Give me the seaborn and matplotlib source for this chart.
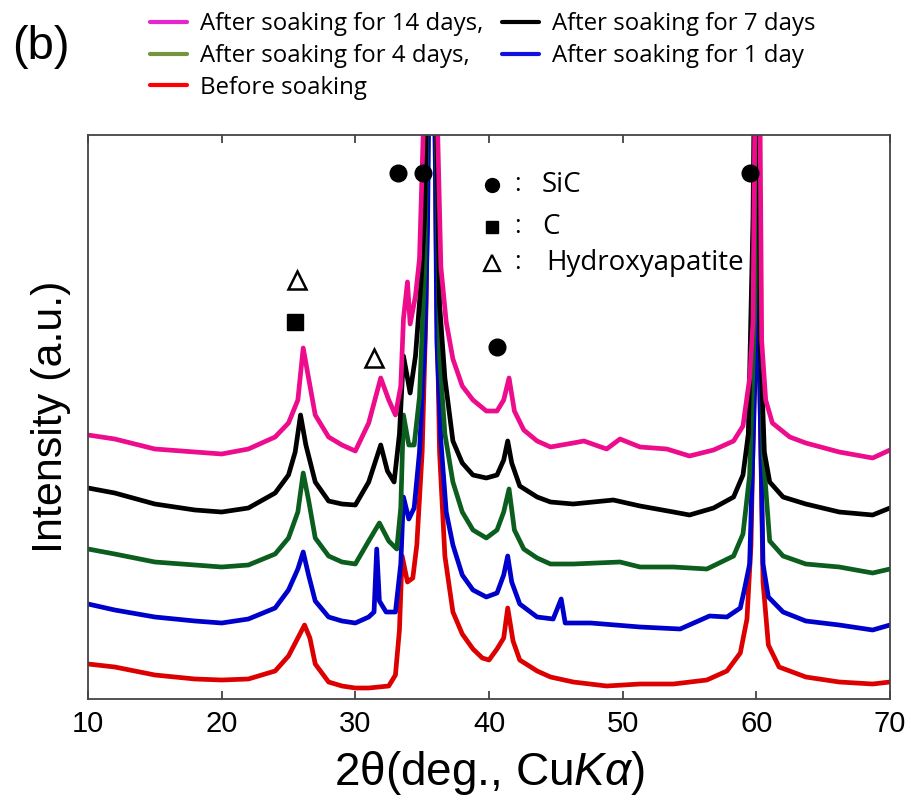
import matplotlib
matplotlib.use("Agg")
import matplotlib.pyplot as plt
import seaborn as sns
import pandas as pd
from matplotlib.lines import Line2D

sns.set_theme(style="white")
plt.rcParams['font.family'] = ['Liberation Sans', 'DejaVu Sans']
plt.rcParams['mathtext.fontset'] = 'custom'
plt.rcParams['mathtext.it'] = 'Liberation Sans:italic'
plt.rcParams['mathtext.rm'] = 'Liberation Sans'
plt.rcParams['text.color'] = 'black'
plt.rcParams['axes.labelcolor'] = 'black'
plt.rcParams['xtick.color'] = 'black'

# ---- data (intensity in arbitrary units) ----
x_14d = [10,12,15,18,20,22,24,25,25.7,26.1,26.5,27,28,29,30,31,31.9,32.5,33,33.4,33.6,33.9,34.1,34.5,34.8,35.2,35.7,36.1,36.4,36.8,37.3,38,38.8,39.8,40.6,41.1,41.5,41.9,42.6,43.6,44.6,46.3,47.1,48.8,49.8,51.3,53.3,55,56.8,58.3,59,59.5,59.75,60.1,60.4,60.7,61.2,62.5,63.7,66.2,68.7,70]
y_14d = [264,260,250,247,245,250,262,276,299,351,321,284,262,254,248,276,321,299,284,313,380,417,375,403,440,620,900,600,432,377,340,313,299,288,288,299,321,288,269,258,252,256,258,250,260,252,250,243,249,258,273,321,377,900,358,299,276,262,256,247,241,249]

x_7d = [10,12,15,18,20,22,24,25,25.5,25.9,26.3,27,28,29,30,31,31.9,32.4,32.9,33.3,33.6,33.9,34.1,34.5,34.9,35.2,35.7,36.3,36.7,37.3,38,38.8,39.8,40.6,41.1,41.4,41.7,42.3,43.6,44.6,46.3,49.3,51.3,53.8,55,56.8,58.3,59,59.4,59.75,60.05,60.3,60.6,61,62,63.7,66.2,68.7,70]
y_7d = [211,206,195,189,187,191,206,224,247,284,254,217,198,195,194,217,254,228,217,265,343,321,306,343,414,488,900,395,321,258,236,224,221,224,239,258,236,213,202,197,195,199,193,187,184,191,202,224,265,480,900,358,247,217,202,195,187,184,191]

x_4d = [10,12,15,18,20,22,24,25,25.7,26.1,26.5,27,28,29,30,31,31.8,32.5,33.1,33.4,33.6,34.0,34.4,34.8,35.2,35.7,36.3,36.7,37.3,38,38.8,39.8,40.6,41.1,41.5,41.9,42.6,43.6,44.6,46.3,49.8,51.3,53.8,56.3,58.3,59,59.5,59.9,60.1,60.25,60.5,61,62,63.7,66.2,68.7,70]
y_4d = [150,145,137,134,132,134,145,161,187,226,199,161,143,137,135,158,176,158,150,191,284,254,254,302,432,900,343,265,217,187,169,161,169,187,210,169,150,141,135,135,137,132,132,130,143,165,224,395,900,432,247,158,143,135,132,126,130]

x_1d = [10,12,15,18,20,22,24,25,25.7,26.1,26.5,27,28,29,30,31,31.4,31.6,31.8,32.3,33,33.4,33.6,34.0,34.4,34.8,35.2,35.4,35.75,36.1,36.4,36.8,37.3,38,38.8,39.8,40.6,41.1,41.4,41.7,42.3,43.6,44.8,45.4,45.7,47.6,51.3,54.3,56.5,57.8,58.8,59.1,59.5,59.9,60.05,60.25,60.5,60.9,62,63.7,66.2,68.7,70]
y_1d = [95,89,82,78,76,80,91,109,130,147,124,98,82,78,76,82,87,150,98,87,87,135,202,180,191,247,358,470,900,358,258,187,154,124,109,102,106,124,143,117,95,82,80,100,76,76,72,70,83,82,91,109,135,321,447,321,135,102,87,78,74,69,74]

x_0d = [10,12,15,18,20,22,24,25,25.7,26.2,26.6,27,28,29,30,31,32.5,33,33.3,33.5,33.9,34.3,34.6,35.0,35.3,35.7,36.1,36.3,36.7,37.3,38,38.8,39.5,40,40.6,41.1,41.4,41.8,42.3,43.6,44.6,46.3,48.8,51.3,53.8,56.3,57.8,58.8,59.3,59.6,59.9,60.05,60.25,60.5,60.9,61.7,63.7,66.2,68.7,70]
y_0d = [35,32,24,20,19,20,28,43,61,74,61,35,17,13,11,11,13,24,69,143,117,121,154,247,395,900,395,247,143,87,65,50,41,39,50,61,91,58,39,28,22,17,13,15,15,19,28,46,80,154,358,403,321,117,54,32,22,17,15,17]

series_names = ["After soaking for 14 days,", "After soaking for 7 days",
                "After soaking for 4 days,", "After soaking for 1 day", "Before soaking"]
line_colors = ["#ec0c8c", "#000000", "#0b5e1e", "#0000cc", "#dd0000"]
legend_colors = ["#e624d0", "#000000", "#77933c", "#1010e0", "#ff0000"]

xticks = [10, 20, 30, 40, 50, 60, 70]

# phase markers (x in degrees, y in a.u.)
sic_x = [33.2, 35.05, 40.6, 59.5]
sic_y = [526, 526, 352, 526]
c_x = [25.5]
c_y = [377]
hap_x = [25.6, 31.4]
hap_y = [419, 341]

# marker key
key_labels = ["SiC", "C", "Hydroxyapatite"]
key_y = [514, 472, 436]

frames = []
for name, xs, ys in zip(series_names,
                        [x_14d, x_7d, x_4d, x_1d, x_0d],
                        [y_14d, y_7d, y_4d, y_1d, y_0d]):
    frames.append(pd.DataFrame({"theta": xs, "intensity": ys, "sample": name}))
df = pd.concat(frames, ignore_index=True)

fig = plt.figure(figsize=(9.12, 8.02), dpi=100)
ax = fig.add_axes([88/912, 1 - 699/802, (890-88)/912, (699-135)/802])

sns.lineplot(data=df, x="theta", y="intensity", hue="sample",
             hue_order=series_names[::-1], palette=dict(zip(series_names, line_colors)),
             sort=False, estimator=None, linewidth=3.4, legend=False, ax=ax)

ax.set_xlim(10, 70)
ax.set_ylim(0, 564)
ax.set_xticks(xticks)
ax.set_xticklabels([str(t) for t in xticks], fontsize=21)
ax.set_yticks([])
ax.tick_params(axis='x', direction='in', top=True, bottom=True, length=6, width=1.2, color='#333333', pad=8)
for s in ax.spines.values():
    s.set_color('#444444')
    s.set_linewidth(1.3)

ax.set_xlabel(r"2θ(deg., Cu$\mathit{K\alpha}$)", fontsize=33, labelpad=8)
ax.set_ylabel("Intensity (a.u.)", fontsize=31, labelpad=12)

# phase markers
ax.plot(sic_x, sic_y, 'o', color='black', markersize=12, clip_on=False)
ax.plot(c_x, c_y, 's', color='black', markersize=11)
ax.plot(hap_x, hap_y, '^', markerfacecolor='white', markeredgecolor='black', markersize=13, markeredgewidth=1.8)

key_font = ['Open Sans', 'DejaVu Sans']
ax.plot([40.2], [key_y[0]], 'o', color='black', markersize=10)
ax.plot([40.2], [key_y[1]], 's', color='black', markersize=9)
ax.plot([40.2], [key_y[2]], '^', markerfacecolor='white', markeredgecolor='black', markersize=11, markeredgewidth=1.6)
for yv, txt, xt in zip(key_y, key_labels, [43.95, 43.95, 44.3]):
    ax.text(42.15, yv, ":", fontsize=18, va='center', ha='center', family=key_font, color='black')
    ax.text(xt, yv, txt, fontsize=20, va='center', ha='left', family=key_font, color='black')

# legend
handles = [Line2D([], [], color=c, linewidth=3) for c in legend_colors]
order = [0, 2, 4, 1, 3]
leg = fig.legend([handles[i] for i in order], [series_names[i] for i in order],
                 loc='upper left', bbox_to_anchor=(138/912, 1.0), ncol=2, frameon=False,
                 prop={'family': key_font, 'size': 17.3}, handlelength=1.55, handletextpad=0.55,
                 columnspacing=0.75, labelspacing=0.33, borderaxespad=0.1)
for t in leg.get_texts():
    t.set_color('black')

fig.text(12/912, 1 - 47/802, "(b)", fontsize=34, va='center', ha='left', color='black')

fig.savefig("out.png", dpi=100)
